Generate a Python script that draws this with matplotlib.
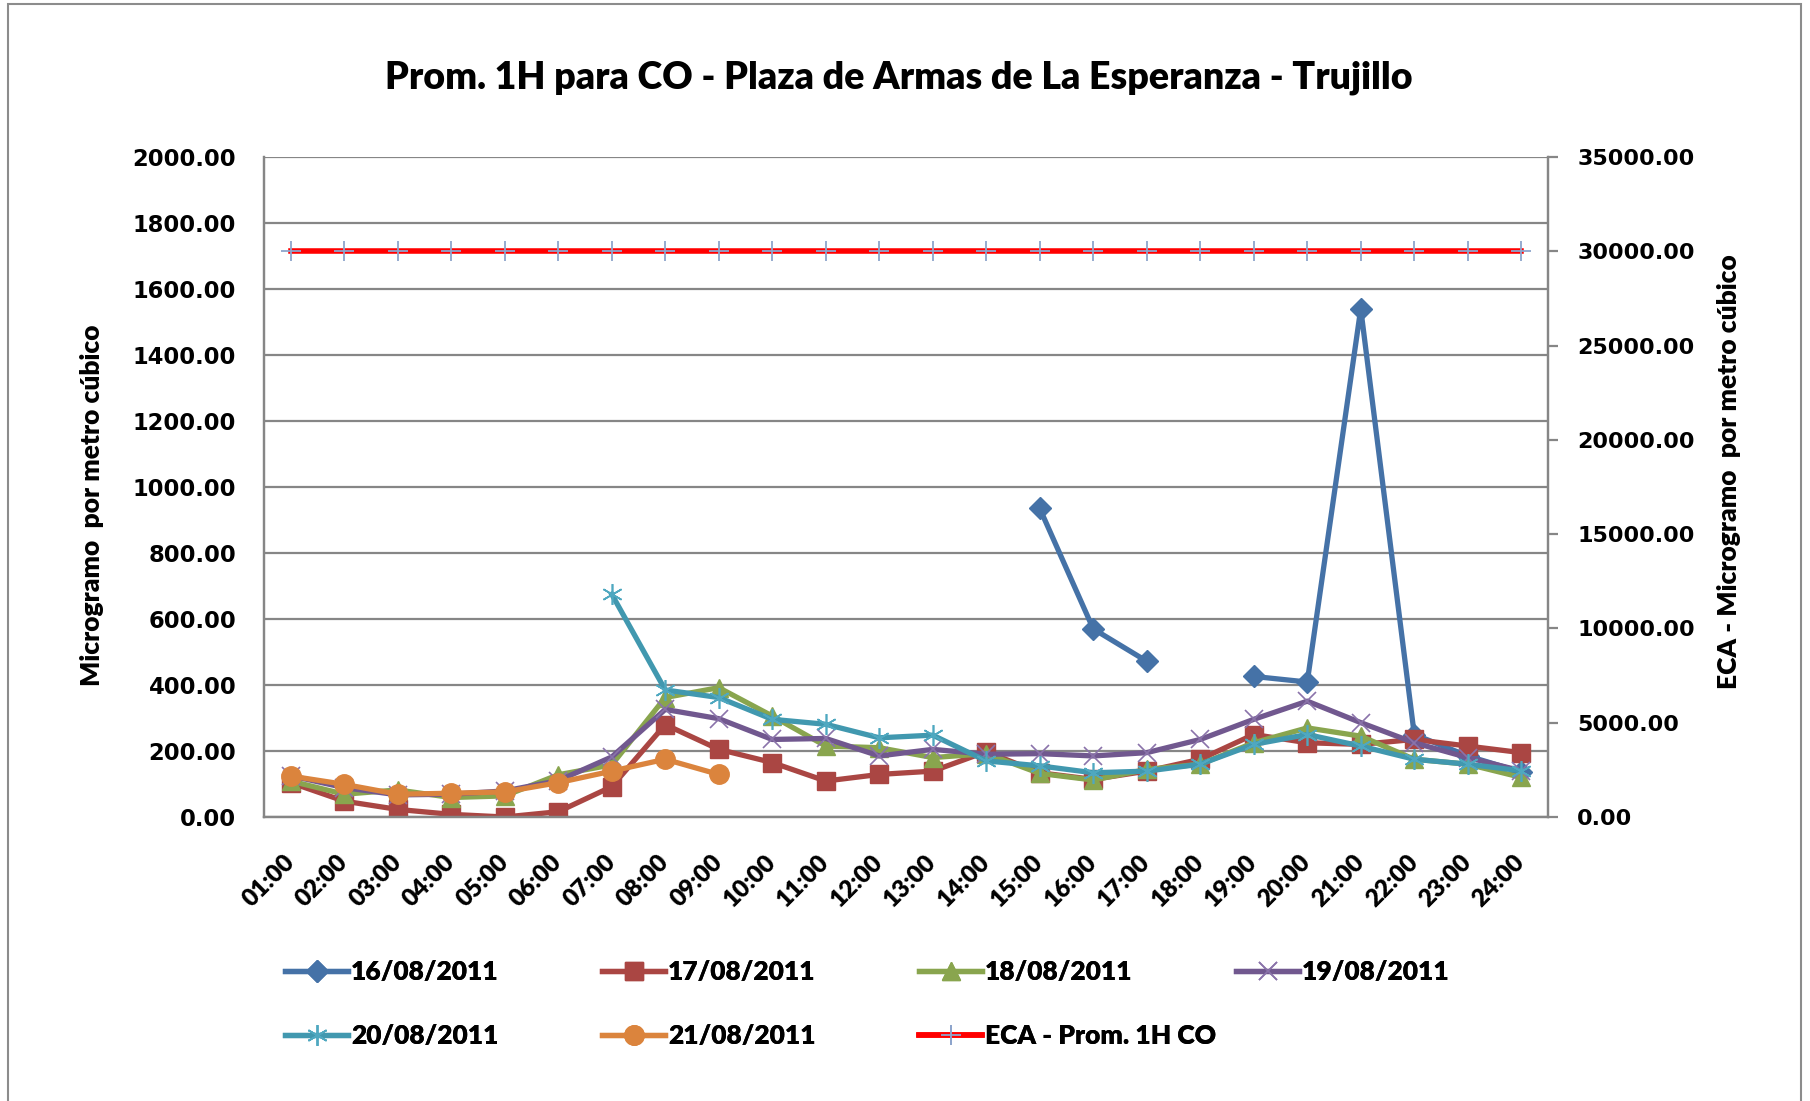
import numpy as np
import matplotlib
matplotlib.use("Agg")
import matplotlib.pyplot as plt
from matplotlib.patches import Rectangle

# Datos (NaN = sin dato)
horas = ["%02d:00" % h for h in range(1, 25)]
nan = np.nan
d16 = [nan, nan, nan, nan, nan, nan, nan, nan, nan, nan, nan, nan, nan, nan,
       935, 570, 472, nan, 426, 409, 1540, 250, 185, 136]
d17 = [104, 48, 23, 8, 0, 16, 92, 280, 205, 165, 109, 129, 139, 198,
       134, 114, 139, 175, 250, 225, 220, 235, 215, 195]
d18 = [109, 69, 82, 59, 64, 128, 158, 362, 392, 306, 215, 210, 180, 192,
       132, 112, 144, 160, 225, 270, 245, 175, 160, 120]
d19 = [125, 89, 67, 69, 79, 110, 182, 326, 298, 235, 238, 185, 205, 190,
       192, 185, 195, 235, 296, 351, 286, 225, 180, 140]
d20 = [nan, nan, nan, nan, nan, nan, 675, 385, 362, 296, 281, 240, 248, 170,
       155, 134, 139, 160, 220, 250, 215, 175, 160, 140]
d21 = [124, 99, 69, 72, 76, 104, 139, 175, 129, nan, nan, nan, nan, nan,
       nan, nan, nan, nan, nan, nan, nan, nan, nan, nan]
eca = [30000] * 24

fuente = ['Lato', 'DejaVu Sans']
gris = '#868686'

fig = plt.figure(figsize=(18.10, 11.01), dpi=100)
fig.patches.append(Rectangle((8/1810, -0.01), 1793/1810, 1.01 - 4/1101,
                             transform=fig.transFigure, fill=False,
                             edgecolor='#8c8c8c', linewidth=1.5))

ax = fig.add_axes([264/1810, 1 - 817/1101, 1284/1810, 660/1101])
ax2 = ax.twinx()

x = np.arange(24)
lw = 3.8
ax.plot(x, d16, color='#4572A7', lw=lw, marker='D', ms=11, label='16/08/2011')
ax.plot(x, d17, color='#AA4643', lw=lw, marker='s', ms=13, label='17/08/2011')
ax.plot(x, d18, color='#89A54E', lw=lw, marker='^', ms=13, label='18/08/2011')
ax.plot(x, d19, color='#71588F', lw=lw, marker='x', ms=13, mew=1.2,
        mec='#8a73aa', label='19/08/2011')
ax.plot(x, d20, color='#4198AF', lw=lw, marker=(6, 2, 0), ms=15, mew=1.2,
        mec='#4fa8c0', label='20/08/2011')
ax.plot(x, d21, color='#DB843D', lw=lw, marker='o', ms=14, label='21/08/2011')
ax2.plot(x, eca, color='#FF0000', lw=4, marker='+', ms=15, mew=1.3,
         mec='#8EA5CC', label='ECA - Prom. 1H CO')

ax.set_xlim(-0.5, 23.5)
ax.set_ylim(0, 2000)
ax.set_yticks(np.arange(0, 2001, 200))
ax.set_yticklabels(['%.2f' % v for v in np.arange(0, 2001, 200)])
ax2.set_ylim(0, 35000)
ax2.set_yticks(np.arange(0, 35001, 5000))
ax2.set_yticklabels(['%.2f' % v for v in np.arange(0, 35001, 5000)])

ax.grid(axis='y', color=gris, lw=1.6)
ax.set_axisbelow(True)
for a in (ax, ax2):
    for s in a.spines.values():
        s.set_color(gris)
        s.set_linewidth(1.6)
    a.spines['top'].set_visible(False)

ax.set_xticks(x)
ax.set_xticklabels(horas, rotation=45, ha='right', va='center',
                   rotation_mode='anchor', fontfamily=fuente,
                   fontweight='heavy', fontsize=17.5)
ax.tick_params(axis='x', length=0, pad=30)
ax.tick_params(axis='y', length=0, pad=20, labelsize=16.3)
ax2.tick_params(axis='y', length=7, width=1.6, color=gris, pad=14,
                labelsize=16)
for lab in ax.get_yticklabels() + ax2.get_yticklabels():
    lab.set_fontweight('bold')
    lab.set_fontfamily('DejaVu Sans')

fig.text(92/1810, 1 - 505/1101, 'Microgramo  por metro cúbico', rotation=90,
         ha='center', va='center', fontfamily=fuente, fontweight='heavy',
         fontsize=19)
fig.text(1729/1810, 1 - 472/1101, 'ECA - Microgramo  por metro cúbico',
         rotation=90, ha='center', va='center', fontfamily=fuente,
         fontweight='heavy', fontsize=19)
fig.text(899/1810, 1 - 78/1101,
         'Prom. 1H para CO - Plaza de Armas de La Esperanza - Trujillo',
         ha='center', va='center', fontfamily=fuente, fontweight='heavy',
         fontsize=27)

# leyenda: 4 columnas de ancho fijo
h1, l1 = ax.get_legend_handles_labels()
h2, l2 = ax2.get_legend_handles_labels()
hs = h1 + h2
ls = l1 + l2
columnas = [[0, 4], [1, 5], [2, 6], [3]]
for i, col in enumerate(columnas):
    leg = fig.legend([hs[k] for k in col], [ls[k] for k in col],
                     loc='upper left',
                     bbox_to_anchor=((285 + i * 317) / 1810, 1 - 960/1101),
                     frameon=False, ncol=1, handlelength=2.4,
                     handletextpad=0.1, labelspacing=1.52, borderpad=0,
                     borderaxespad=0, numpoints=1,
                     prop={'family': fuente, 'weight': 'heavy', 'size': 19})
    fig.add_artist(leg)

fig.savefig('out.png', dpi=100)
